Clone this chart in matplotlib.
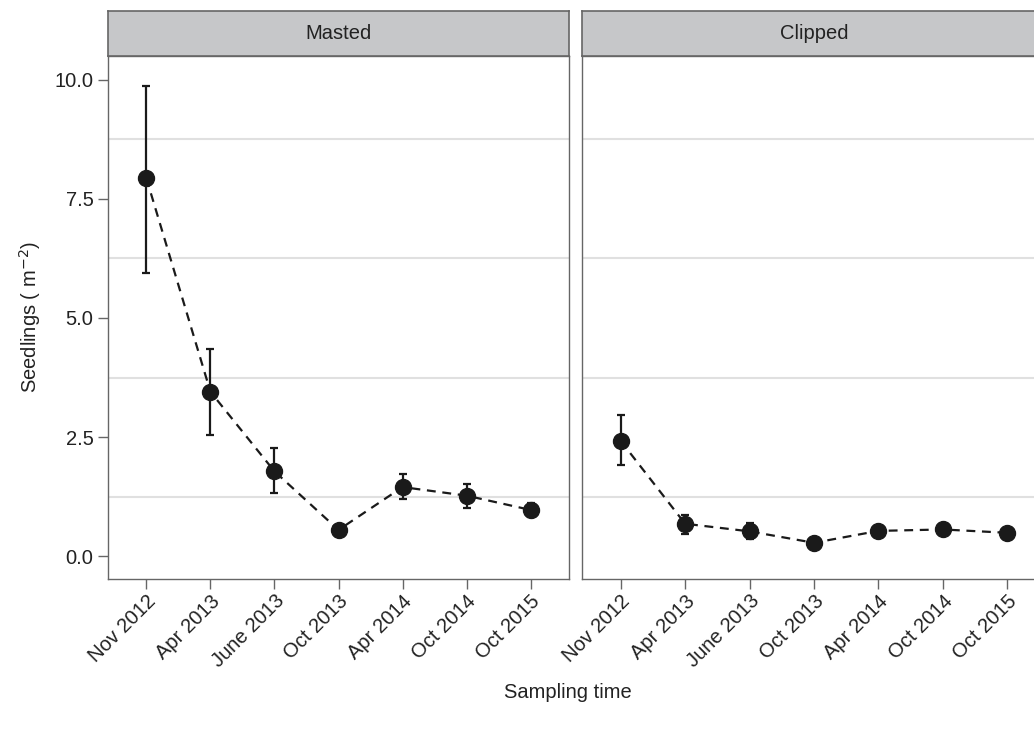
import matplotlib
matplotlib.use("Agg")
import matplotlib.pyplot as plt
from matplotlib.patches import Rectangle

plt.rcParams['font.family'] = ['Liberation Sans', 'DejaVu Sans']

# data
times = ["Nov 2012", "Apr 2013", "June 2013", "Oct 2013", "Apr 2014", "Oct 2014", "Oct 2015"]
panels = ["Masted", "Clipped"]

masted_mean = [7.93, 3.45, 1.78, 0.55, 1.45, 1.27, 0.97]
masted_low = [5.95, 2.54, 1.32, 0.45, 1.20, 1.02, 0.82]
masted_high = [9.88, 4.35, 2.26, 0.65, 1.72, 1.52, 1.12]

clipped_mean = [2.42, 0.68, 0.52, 0.28, 0.53, 0.56, 0.49]
clipped_low = [1.91, 0.47, 0.35, 0.23, 0.47, 0.51, 0.45]
clipped_high = [2.96, 0.87, 0.70, 0.33, 0.60, 0.62, 0.54]

series = [
    (masted_mean, masted_low, masted_high),
    (clipped_mean, clipped_low, clipped_high),
]

W, H = 1034, 729
fig = plt.figure(figsize=(W / 100, H / 100), dpi=100)

# panel boxes in pixels: left, right, top, bottom
panel_px = [(108, 569), (582, 1046)]
top_px, bot_px = 56, 579
strip_top = 11

frame_col = "#666666"
text_col = "#222222"
fs = 14.5
x = list(range(1, len(times) + 1))

for i, ((l, r), name, (mean, lo, hi)) in enumerate(zip(panel_px, panels, series)):
    ax = fig.add_axes([l / W, 1 - bot_px / H, (r - l) / W, (bot_px - top_px) / H])
    ax.set_xlim(0.4, len(times) + 0.6)
    ax.set_ylim(-0.48, 10.5)

    # only the minor grid is shown in the reference
    for g in [1.25, 3.75, 6.25, 8.75]:
        ax.axhline(g, color="#e0e0e0", lw=1.5, zorder=0)

    ax.plot(x, mean, ls=(0, (4, 3)), color="#1a1a1a", lw=1.6, zorder=2)
    yerr = [[m - a for m, a in zip(mean, lo)], [b - m for m, b in zip(mean, hi)]]
    ax.errorbar(x, mean, yerr=yerr, fmt="none", ecolor="#1a1a1a",
                elinewidth=1.6, capsize=3, capthick=1.6, zorder=3)
    ax.plot(x, mean, "o", color="#1a1a1a", ms=11.5, zorder=4)

    for s in ax.spines.values():
        s.set_color(frame_col)
        s.set_linewidth(1.0)

    ax.set_xticks(x)
    ax.set_xticklabels(times, rotation=45, ha="right", rotation_mode="anchor",
                       fontsize=fs, color=text_col)
    ax.tick_params(axis="both", length=7, color=frame_col, width=1.0)
    ax.tick_params(axis="x", pad=2)

    if i == 0:
        ax.set_yticks([0, 2.5, 5, 7.5, 10])
        ax.set_yticklabels(["0.0", "2.5", "5.0", "7.5", "10.0"], fontsize=fs, color=text_col)
        ax.set_ylabel("Seedlings ( m$^{-2}$)", fontsize=fs, color=text_col, labelpad=8)
    else:
        ax.set_yticks([])

    # facet strip
    sax = fig.add_axes([l / W, 1 - top_px / H, (r - l) / W, (top_px - strip_top) / H])
    sax.add_patch(Rectangle((0, 0), 1, 1, transform=sax.transAxes,
                            facecolor="#c6c7c9", edgecolor="none"))
    sax.set_xticks([])
    sax.set_yticks([])
    for s in sax.spines.values():
        s.set_color(frame_col)
        s.set_linewidth(1.2)
    sax.text(0.5, 0.5, name, ha="center", va="center", fontsize=fs, color=text_col,
             transform=sax.transAxes)

fig.text(568 / W, 1 - 693 / H, "Sampling time", ha="center", va="center",
         fontsize=fs, color=text_col)

fig.savefig("out.png", dpi=100)
